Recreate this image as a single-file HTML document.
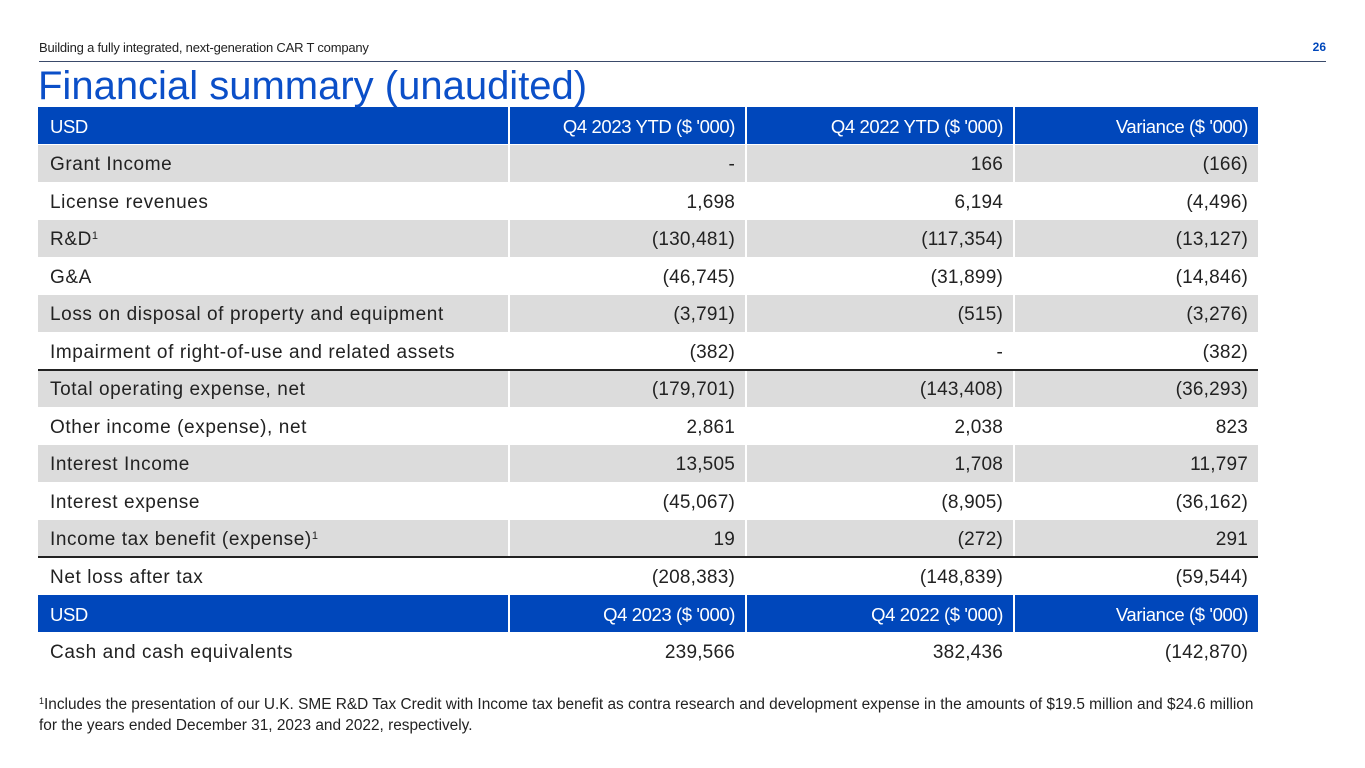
<!DOCTYPE html>
<html><head><meta charset="utf-8">
<style>
body{margin:0;width:1365px;height:768px;background:#fff;position:relative;overflow:hidden;font-family:"Liberation Sans",sans-serif;color:#222}
.abs{position:absolute}
.cell{position:absolute;height:37px;line-height:40px;font-size:19px;box-sizing:border-box;white-space:nowrap}
.l{padding-left:12px;letter-spacing:0.6px}
.r{text-align:right;padding-right:10px;letter-spacing:0.2px}
.hd{background:#0047bb;color:#fff;letter-spacing:-0.4px;font-size:18.5px}
.g{background:#dcdcdc}
sup{font-size:11px;vertical-align:6px;line-height:0}
</style></head><body>
<div class="abs" style="left:39px;top:40px;font-size:13px;color:#222;letter-spacing:-0.2px">Building a fully integrated, next-generation CAR T company</div>
<div class="abs" style="left:1300px;top:40px;font-size:12px;font-weight:bold;color:#0047bb;width:26px;text-align:right">26</div>
<div class="abs" style="left:39px;top:61px;width:1287px;height:1px;background:#3a4a6a"></div>
<div class="abs" style="left:38px;top:64px;font-size:40px;color:#0b4fc8;letter-spacing:0px">Financial summary (unaudited)</div>
<div id="tbl"></div>
<div class="abs" style="left:39px;top:694px;font-size:15.4px;line-height:21px;color:#222;width:1300px;white-space:nowrap"><sup style="font-size:9px;vertical-align:5px">1</sup>Includes the presentation of our U.K. SME R&amp;D Tax Credit with Income tax benefit as contra research and development expense in the amounts of $19.5 million and $24.6 million<br>for the years ended December 31, 2023 and 2022, respectively.</div>
<script>
const labels=["Grant Income","License revenues","R&D<sup>1</sup>","G&A","Loss on disposal of property and equipment","Impairment of right-of-use and related assets","Total operating expense, net","Other income (expense), net","Interest Income","Interest expense","Income tax benefit (expense)<sup>1</sup>","Net loss after tax"];
const col2023=["-","1,698","(130,481)","(46,745)","(3,791)","(382)","(179,701)","2,861","13,505","(45,067)","19","(208,383)"];
const col2022=["166","6,194","(117,354)","(31,899)","(515)","-","(143,408)","2,038","1,708","(8,905)","(272)","(148,839)"];
const colVar=["(166)","(4,496)","(13,127)","(14,846)","(3,276)","(382)","(36,293)","823","11,797","(36,162)","291","(59,544)"];
const headers1=["USD","Q4 2023 YTD ($ '000)","Q4 2022 YTD ($ '000)","Variance ($ '000)"];
const headers2=["USD","Q4 2023 ($ '000)","Q4 2022 ($ '000)","Variance ($ '000)"];
const cashRow=["Cash and cash equivalents","239,566","382,436","(142,870)"];
const cols=[[38,470],[510,235],[747,266],[1015,243]];
const tbl=document.getElementById('tbl');
function mk(txt,ci,top,cls,name){
  const d=document.createElement('div');
  d.className='cell '+(ci===0?'l ':'r ')+cls;
  d.style.left=cols[ci][0]+'px';d.style.width=cols[ci][1]+'px';d.style.top=top+'px';
  d.innerHTML=txt;
  
  
  tbl.appendChild(d);
}
const rowH=37.5;
headers1.forEach((h,i)=>mk(h,i,107,'hd','header-cell'));
labels.forEach((lab,r)=>{
  const top=Math.round(145+r*rowH);
  const cls=(r%2===0)?'g':'';
  mk(lab,0,top,cls,'row-label');
  mk(col2023[r],1,top,cls,'value-2023');
  mk(col2022[r],2,top,cls,'value-2022');
  mk(colVar[r],3,top,cls,'value-variance');
});
headers2.forEach((h,i)=>mk(h,i,Math.round(145+12*rowH),'hd','header-cell'));
cashRow.forEach((v,i)=>mk(v,i,Math.round(145+13*rowH),'','cash-cell'));
[370,557].forEach(y=>{
  const ln=document.createElement('div');
  ln.className='abs';
  ln.style.cssText='left:38px;width:1220px;height:2px;background:#222;top:'+(y-1)+'px';
  
  
  tbl.appendChild(ln);
});
</script>
</body></html>
